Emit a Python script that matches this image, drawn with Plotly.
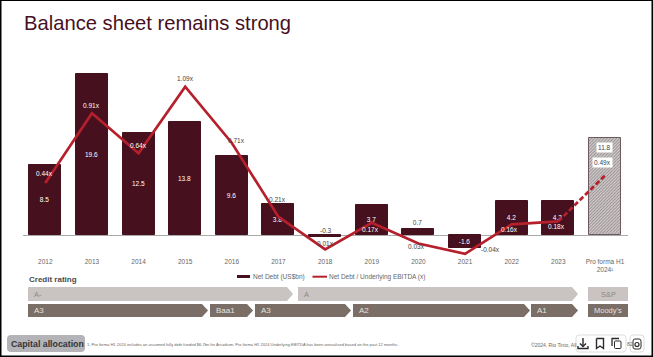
import plotly.graph_objects as go

W, H = 653, 357
years = ["2012","2013","2014","2015","2016","2017","2018","2019","2020","2021","2022","2023","Pro forma H1<br>2024¹"]
net_debt = [8.5,19.6,12.5,13.8,9.6,3.8,-0.3,3.7,0.7,-1.6,4.2,4.2,11.8]
debt_labels = ["8.5","19.6","12.5","13.8","9.6","3.8","","3.7","0.7","-1.6","4.2","4.2",""]
ratio = [0.44,0.91,0.64,1.09,0.71,0.21,-0.01,0.17,0.03,-0.04,0.16,0.18,0.49]
ratio_labels = ["0.44x","0.91x","0.64x","1.09x","0.71x","0.21x","0.01x","0.17x","0.03x","-0.04x","0.16x","0.18x","0.49x"]
ratio_label_color = ["#fff","#fff","#fff","#444","#444","#444","#444","#fff","#444","#444","#fff","#fff","#444"]
ratio_label_dx = [-1,0,0,0,5,-1,0,-1,-2,25,-2,-2,-2]
ratio_label_dy = [9,8,8,8,2,17,6,-7,-3,4,-5,-5,13]
sp_ratings = [("A-",28,293),("A",298,578)]
moodys_ratings = [("A3",28,208),("Baa1",210,253),("A3",255,351),("A2",353,530),("A1",531,578)]

BURG, RED = "#47101f", "#b5202c"
FONT = "Liberation Sans"
ml, mr, mt, mb = 23, 25, 60, 101
pw, ph = W-ml-mr, H-mt-mb
px = lambda x: (x-ml)/pw
py = lambda y: 1-(y-mt)/ph

fig = go.Figure()
fig.add_trace(go.Bar(
    x=years, y=net_debt, name="Net Debt (US$bn)", width=0.686, showlegend=False,
    marker=dict(color=[BURG]*12+["#d4cccd"], line=dict(color=[BURG]*12+["#6b5a5e"], width=1),
                pattern=dict(shape=[""]*12+["/"], fgcolor="#96757e", bgcolor="#dfd9da", size=2.2, solidity=0.4)),
    text=debt_labels, textposition=["inside"]*8+["outside"]+["inside"]*4,
    insidetextanchor="middle", textangle=0, cliponaxis=False,
    insidetextfont=dict(color="#fff", size=6.5, family=FONT),
    outsidetextfont=dict(color="#444", size=6.5, family=FONT),
    yaxis="y"))
fig.add_trace(go.Scatter(x=years[:12], y=ratio[:12], mode="lines", name="Net Debt / Underlying EBITDA (x)", showlegend=False,
    line=dict(color=RED, width=2.7), yaxis="y2", cliponaxis=False))
fig.add_trace(go.Scatter(x=years[11:], y=ratio[11:], mode="lines", showlegend=False,
    line=dict(color=RED, width=2.7, dash="5px,2.5px"), yaxis="y2", cliponaxis=False))

ann = []
for i in range(13):
    ann.append(dict(x=i, y=ratio[i], xref="x", yref="y2", text=ratio_labels[i], showarrow=False,
        xshift=ratio_label_dx[i], yshift=ratio_label_dy[i], font=dict(size=6.5, color=ratio_label_color[i], family=FONT)))
ann[-1]["bgcolor"] = "#fff"
ann.append(dict(x=12, y=net_debt[12], xref="x", yref="y", text="11.8", showarrow=False, yshift=-9.5, bgcolor="#fff",
    font=dict(size=6.5, color="#444", family=FONT)))
ann.append(dict(x=6, y=0, xref="x", yref="y", text="-0.3", showarrow=False, xshift=1, yshift=4.5,
    font=dict(size=6.5, color="#444", family=FONT)))

def t(x, y, s, size, color, anchor="left"):
    ann.append(dict(x=px(x), y=py(y), xref="paper", yref="paper", text=s, showarrow=False,
        xanchor=anchor, yanchor="middle", font=dict(size=size, color=color, family=FONT)))

shapes = []
def P(path, fill=None, line=None, w=1):
    out = []
    for seg in path:
        c, rest = seg[0], seg[1:]
        pts = [f"{px(rest[k])},{py(rest[k+1])}" for k in range(0, len(rest), 2)]
        out.append(c + " ".join(pts))
    if fill:
        out.append("Z")
    shapes.append(dict(type="path", xref="paper", yref="paper", path=" ".join(out), fillcolor=fill or "rgba(0,0,0,0)",
                       line=dict(width=w if line else 0, color=line or "rgba(0,0,0,0)"), layer="above"))
def rect(x0,y0,x1,y1,fill,line=None):
    shapes.append(dict(type="rect", xref="paper", yref="paper", x0=px(x0), x1=px(x1), y0=py(y1), y1=py(y0),
        fillcolor=fill, line=dict(width=1 if line else 0, color=line or fill), layer="above"))
def rrect(x0,y0,x1,y1,r,fill,line=None):
    P([("M",x0+r,y0),("L",x1-r,y0),("Q",x1,y0,x1,y0+r),("L",x1,y1-r),("Q",x1,y1,x1-r,y1),
       ("L",x0+r,y1),("Q",x0,y1,x0,y1-r),("L",x0,y0+r),("Q",x0,y0,x0+r,y0)], fill=fill, line=line)
def chevron(x0,x1,y0,y1,fill):
    b, m = x1-6, (y0+y1)/2
    P([("M",x0,y0),("L",b,y0),("L",x1,m),("L",b,y1),("L",x0,y1)], fill=fill)

for lab,a,b in sp_ratings:
    chevron(a,b,287,301,"#c9c4c2"); t(a+4,294,lab,7.5,"#8f8886")
for lab,a,b in moodys_ratings:
    chevron(a,b,304,317,"#7a6e66"); t(a+4,310.5,lab,8,"#e6e2df")
rect(588,287,628,301,"#c9c4c2"); t(608,294,"S&P",7.5,"#8f8886",anchor="center")
rect(588,304,628,317,"#7a6e66"); t(608,310.5,"Moody's",7.5,"#e6e2df",anchor="center")
t(27,279,"<b>Credit rating</b>",8,"#4a4a4a")
t(21.5,23.5,"Balance sheet remains strong",20.2,BURG)

# legend key
rect(237,275,250,278,BURG)
t(251,276.5,"Net Debt (US$bn)",6.5,"#666")
rect(312.5,275.7,327,277.7,RED)
t(327,276.5,"Net Debt / Underlying EBITDA (x)",6.5,"#666")

rrect(7,335,85,352,4,"#b4b4b8")
t(9,343.5,"<b>Capital allocation</b>",8.8,"#333")
t(85,344.5,"1. Pro forma H1 2024 includes an assumed fully debt funded $6.7bn for Arcadium. Pro forma H1 2024 Underlying EBITDA has been annualised based on the past 12 months.",4.05,"#666")
t(529,344.5,"©2024, Rio Tinto, All",5,"#666")

# viewer toolbar
rrect(576,335,626,352,3,"#ffffff","#dddddd")
rrect(630,335,644,352,3,"#ffffff","#dddddd")
t(624.5,344,"82",5,"#666")
ic = "#2a2a2a"
P([("M",583,338),("L",583,346)], line=ic, w=1.4)
P([("M",580,343.5),("L",583,346.5),("L",586,343.5)], line=ic, w=1.4)
P([("M",578,346),("L",578,348.5),("L",588,348.5),("L",588,346)], line=ic, w=1.4)
P([("M",596.5,338.5),("L",603.5,338.5),("L",603.5,348.5),("L",600,346),("L",596.5,348.5),("L",596.5,338.5)], line=ic, w=1.4)
P([("M",612,346),("L",612,338.5),("L",619,338.5)], line=ic, w=1.3)
rrect(614.5,341,621,348.5,1,"#ffffff",ic)
rrect(633,339,641,349,2,"#ffffff",ic)
shapes.append(dict(type="circle", xref="paper", yref="paper", x0=px(635), x1=px(639), y0=py(346.5), y1=py(342.5),
                   line=dict(color=ic, width=1.2), fillcolor="rgba(0,0,0,0)", layer="above"))

# page frame
rect(0,0,653,1,"#000000")
rect(0,0,1.5,357,"#000000")
rect(651.5,0,653,357,"#000000")
rect(0,355.5,653,357,"#000000")

fig.update_layout(
    width=W, height=H, margin=dict(l=ml,r=mr,t=mt,b=mb,pad=0), paper_bgcolor="#fff", plot_bgcolor="#fff",
    barmode="overlay", bargap=0, annotations=ann, shapes=shapes, showlegend=False,
    font=dict(family=FONT, color="#555", size=6.5),
    xaxis=dict(type="category", categoryorder="array", categoryarray=years, range=[-0.478,12.494],
               showgrid=False, zeroline=False, showline=False, ticks="", tickfont=dict(size=6.5,color="#666"), tickangle=0),
    yaxis=dict(range=[(235-(H-mb))/8.2,(235-mt)/8.2], showgrid=False, zeroline=True, zerolinecolor="#aaa", zerolinewidth=1, showticklabels=False, ticks=""),
    yaxis2=dict(range=[(248-(H-mb))/148,(248-mt)/148], overlaying="y", side="right", showgrid=False, zeroline=False, showticklabels=False, ticks=""),
)
fig.write_html("out.html", config=dict(displayModeBar=False), post_script="document.body.style.margin='0';document.body.style.overflow='hidden';")
